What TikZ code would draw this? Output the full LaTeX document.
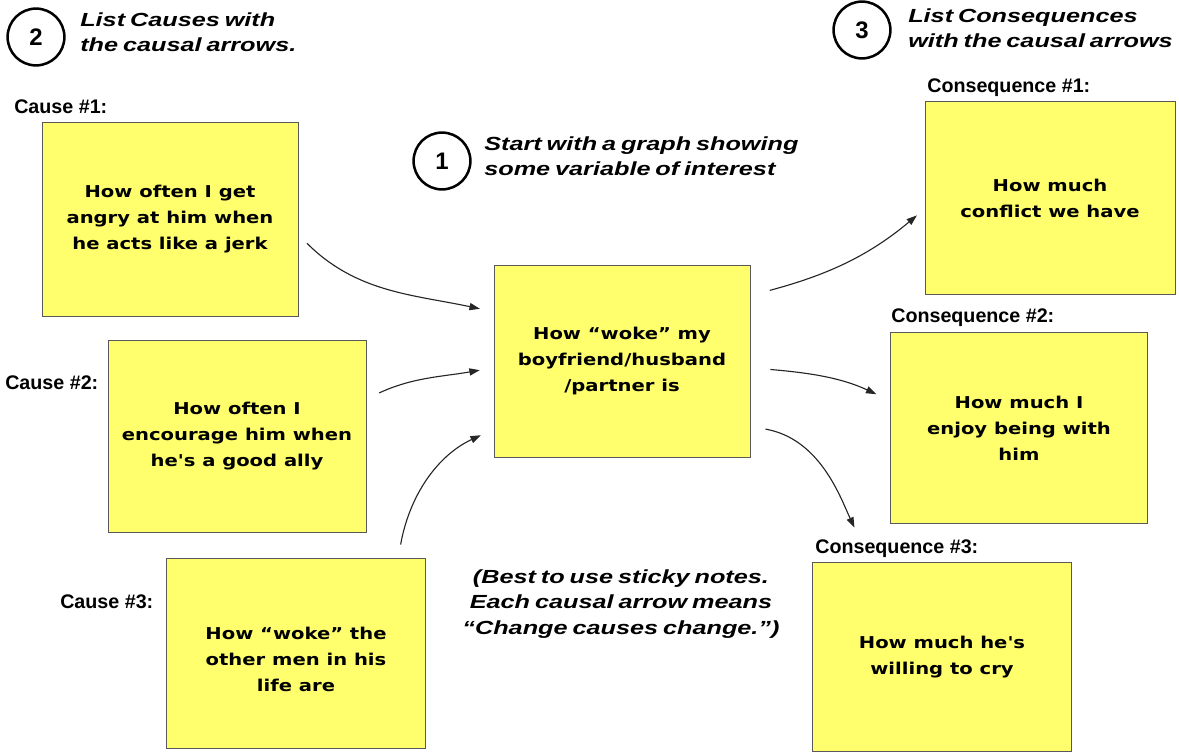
\documentclass[tikz,border=0pt]{standalone}
\usepackage{fontspec}
\setmainfont{Liberation Sans}
\newfontfamily\notefont[FakeStretch=1.2]{DejaVu Sans}
\newfontfamily\headfont[FakeStretch=1.33,WordSpace=0.7]{Liberation Sans}
\usetikzlibrary{arrows.meta}
\definecolor{noteyellow}{RGB}{255,255,110}
\tikzset{
  sticky/.style   = {rectangle, draw=black!65, fill=noteyellow, line width=0.6pt,
                     minimum width=6.4cm, minimum height=4.8cm, align=center,
                     font=\notefont\bfseries\fontsize{11.6}{18.4}\selectfont},
  tag/.style      = {anchor=west, inner sep=0pt, font=\bfseries\fontsize{14}{16}\selectfont},
  heading/.style  = {anchor=north west, inner sep=0pt, align=left,
                     font=\headfont\bfseries\itshape\fontsize{13.5}{18.4}\selectfont},
  numcirc/.style  = {circle, draw, line width=1.8pt, minimum size=1.42cm, inner sep=0pt,
                     font=\bfseries\fontsize{17}{17}\selectfont},
  causal/.style   = {-{Triangle[length=2.6mm,width=1.8mm]}, line width=0.8pt, black!85},
}

\begin{document}
\begin{tikzpicture}[x=0.025cm, y=-0.025cm]
  \useasboundingbox (0,0) rectangle (1179,754);

  % Step headings
  \node[numcirc] (n2) at (36,37)   {2};
  \node[heading] (h2) at (80,12)   {List Causes with\\the causal arrows.};
  \node[numcirc] (n1) at (442,161) {1};
  \node[heading] (h1) at (484,136) {Start with a graph showing\\some variable of interest};
  \node[numcirc] (n3) at (862,30)  {3};
  \node[heading] (h3) at (908,8)   {List Consequences\\with the causal arrows};

  % Causes
  \node[tag] (l1) at (14,107) {Cause \#1:};
  \node[sticky, minimum height=4.85cm] (cause1) at (170,219)
    {How often I get\\angry at him when\\he acts like a jerk};
  \node[tag] (l2) at (5,383) {Cause \#2:};
  \node[sticky, minimum width=6.45cm] (cause2) at (237,436)
    {How often I\\encourage him when\\he's a good ally};
  \node[tag] (l3) at (60,602) {Cause \#3:};
  \node[sticky, minimum width=6.48cm, minimum height=4.75cm] (cause3) at (296,653)
    {\\How “woke” the\\other men in his\\life are};

  % Variable of interest
  \node[sticky] (woke) at (622,361)
    {How “woke” my\\boyfriend/husband\\/partner is};

  % Consequences
  \node[tag] (k1) at (927,88) {Consequence \#1:};
  \node[sticky, minimum width=6.25cm, minimum height=4.82cm] (cons1) at (1050,198)
    {How much\\conflict we have};
  \node[tag] (k2) at (891,318) {Consequence \#2:};
  \node[sticky, minimum width=6.42cm, minimum height=4.78cm] (cons2) at (1019,428)
    {How much I\\enjoy being with\\him};
  \node[tag] (k3) at (815,549) {Consequence \#3:};
  \node[sticky, minimum width=6.48cm, minimum height=4.72cm] (cons3) at (942,657)
    {How much he's\\willing to cry};

  % Note
  \node[heading, anchor=center, align=center] (memo) at (621,604)
    {(Best to use sticky notes.\\Each causal arrow means\\“Change causes change.”)};

  % Causal arrows in
  \draw[causal, shorten <=0.3cm, shorten >=0.35cm] (cause1.-7) to[out=-45, in=168] (woke.159);
  \draw[causal, shorten <=0.35cm, shorten >=0.35cm] (cause2.16) to[out=25, in=190] (woke.183);
  \draw[causal, shorten <=0.33cm, shorten >=0.35cm] (cause3.43) to[out=80, in=205] (woke.208);

  % Causal arrows out
  \draw[causal, shorten <=0.5cm, shorten >=0.25cm] (woke.27) to[out=15, in=220] (cons1.185);
  \draw[causal, shorten <=0.5cm, shorten >=0.38cm] (woke.-3) to[out=-5, in=155] (cons2.168);
  \draw[causal, shorten <=0.38cm, shorten >=0.95cm] (woke.-27) to[out=-10, in=115] (cons3.127);

\end{tikzpicture}
\end{document}
